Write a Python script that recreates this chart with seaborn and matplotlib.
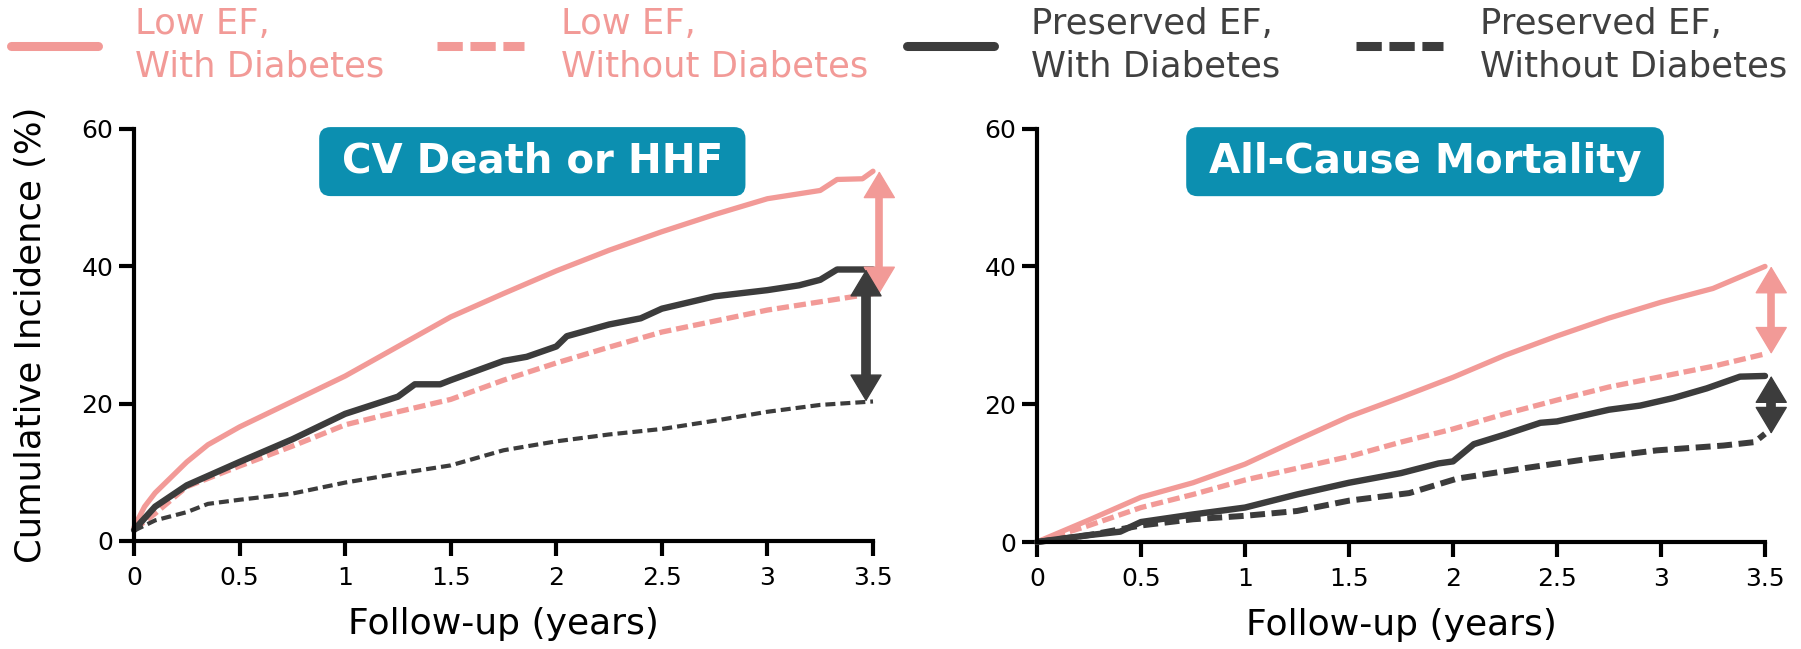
import numpy as np
import pandas as pd
import matplotlib
matplotlib.use("Agg")
import matplotlib.pyplot as plt
from matplotlib.lines import Line2D
import seaborn as sns

sns.set_style("ticks")
plt.rcParams["font.family"] = ["DejaVu Sans"]

# ---- CV death or HHF (cumulative incidence, %) ----
cv_t_low_dm = [0, 0.05, 0.1, 0.25, 0.35, 0.5, 0.75, 1.0, 1.25, 1.5, 1.75, 2.0, 2.25, 2.5, 2.75, 3.0, 3.25, 3.33, 3.45, 3.5]
cv_low_dm = [2.0, 5.0, 7.0, 11.5, 14.0, 16.6, 20.3, 24.0, 28.3, 32.6, 36.0, 39.3, 42.3, 45.0, 47.5, 49.8, 51.0, 52.6, 52.7, 53.8]

cv_t_low_nodm = [0, 0.1, 0.25, 0.5, 0.75, 1.0, 1.25, 1.5, 1.75, 2.0, 2.25, 2.5, 2.75, 3.0, 3.25, 3.5]
cv_low_nodm = [1.6, 4.0, 7.9, 10.9, 13.8, 16.9, 18.8, 20.6, 23.4, 25.9, 28.2, 30.4, 32.0, 33.6, 34.8, 36.0]

cv_t_pres_dm = [0, 0.1, 0.25, 0.5, 0.75, 1.0, 1.25, 1.33, 1.45, 1.5, 1.75, 1.86, 2.0, 2.05, 2.25, 2.4, 2.5, 2.75, 3.0, 3.15, 3.25, 3.33, 3.5]
cv_pres_dm = [1.6, 5.0, 8.1, 11.5, 14.8, 18.5, 21.0, 22.8, 22.8, 23.4, 26.2, 26.8, 28.3, 29.8, 31.5, 32.4, 33.8, 35.6, 36.5, 37.2, 38.0, 39.5, 39.5]

cv_t_pres_nodm = [0, 0.1, 0.25, 0.35, 0.5, 0.75, 1.0, 1.25, 1.5, 1.75, 2.0, 2.25, 2.5, 2.75, 3.0, 3.25, 3.5]
cv_pres_nodm = [1.5, 3.0, 4.2, 5.4, 6.0, 6.9, 8.5, 9.8, 11.0, 13.2, 14.5, 15.5, 16.3, 17.5, 18.8, 19.8, 20.3]

# ---- All-cause mortality (cumulative incidence, %) ----
acm_t_low_dm = [0, 0.25, 0.5, 0.75, 1.0, 1.25, 1.5, 1.75, 2.0, 2.25, 2.5, 2.75, 3.0, 3.25, 3.5]
acm_low_dm = [0, 3.2, 6.5, 8.6, 11.3, 14.8, 18.2, 21.0, 23.9, 27.1, 29.9, 32.5, 34.8, 36.8, 40.0]

acm_t_low_nodm = [0, 0.25, 0.5, 0.75, 1.0, 1.25, 1.5, 1.75, 2.0, 2.25, 2.5, 2.75, 3.0, 3.25, 3.5]
acm_low_nodm = [0, 2.4, 5.0, 6.9, 9.0, 10.7, 12.4, 14.5, 16.4, 18.6, 20.6, 22.5, 24.0, 25.5, 27.3]

acm_t_pres_dm = [0, 0.25, 0.4, 0.5, 0.75, 1.0, 1.25, 1.5, 1.75, 1.93, 2.0, 2.1, 2.25, 2.42, 2.5, 2.75, 2.9, 3.06, 3.22, 3.38, 3.5]
acm_pres_dm = [0, 1.0, 1.5, 2.9, 4.0, 5.0, 6.9, 8.6, 10.0, 11.4, 11.7, 14.2, 15.6, 17.3, 17.5, 19.2, 19.8, 20.9, 22.3, 24.0, 24.1]

acm_t_pres_nodm = [0, 0.25, 0.5, 0.75, 1.0, 1.25, 1.5, 1.79, 2.02, 2.34, 2.66, 2.98, 3.3, 3.45, 3.5]
acm_pres_nodm = [0, 1.0, 2.4, 3.3, 3.8, 4.5, 6.0, 7.1, 9.2, 10.7, 12.1, 13.3, 14.0, 14.5, 15.7]

panel_titles = ["CV Death or HHF", "All-Cause Mortality"]
legend_labels = ["Low EF,\nWith Diabetes", "Low EF,\nWithout Diabetes",
                 "Preserved EF,\nWith Diabetes", "Preserved EF,\nWithout Diabetes"]
x_ticks = [0, 0.5, 1, 1.5, 2, 2.5, 3, 3.5]
x_tick_labels = ["0", "0.5", "1", "1.5", "2", "2.5", "3", "3.5"]
y_ticks = [0, 20, 40, 60]

SALMON = "#F29A97"
DARK = "#3C3C3C"
DARK_TEXT = "#404040"
TEAL = "#0C8FB0"
DPI = 100

fig = plt.figure(figsize=(18.01, 6.49), dpi=DPI)
ax_l = fig.add_axes([134 / 1801, 108 / 649, 739 / 1801, 412.4 / 649])
ax_r = fig.add_axes([1037 / 1801, 107 / 649, 728 / 1801, 413.4 / 649])

HEAD_MS = 20  # arrow-head mutation scale, points
HEAD_LEN_PX = 25.0
HEAD_HALF_W_PX = 15.0


def gap_arrow(ax, x, y_top, y_bot, color, shaft_lw):
    """Double-headed vertical arrow between two curve end values."""
    ms_px = HEAD_MS * DPI / 72
    style = (f"<|-|>,head_length={HEAD_LEN_PX / ms_px:.3f},"
             f"head_width={HEAD_HALF_W_PX / ms_px:.3f}")
    ax.annotate("", xy=(x, y_bot), xytext=(x, y_top),
                xycoords="data", textcoords="data", annotation_clip=False,
                arrowprops=dict(arrowstyle=style, mutation_scale=HEAD_MS, lw=1,
                                color=color, shrinkA=0, shrinkB=0),
                zorder=5)
    px_per_unit = ax.bbox.height / (ax.get_ylim()[1] - ax.get_ylim()[0])
    dy = 0.6 * HEAD_LEN_PX / px_per_unit
    ax.plot([x, x], [y_top - dy, y_bot + dy], color=color, lw=shaft_lw,
            solid_capstyle="butt", clip_on=False, zorder=5)


panels = [
    (ax_l, [(cv_t_low_dm, cv_low_dm, SALMON, "-", 3.8),
            (cv_t_low_nodm, cv_low_nodm, SALMON, (0, (2.3, 0.95)), 3.8),
            (cv_t_pres_dm, cv_pres_dm, DARK, "-", 4.6),
            (cv_t_pres_nodm, cv_pres_nodm, DARK, (0, (2.4, 1.2)), 3.0)],
     panel_titles[0], 0.539, (3.53, 3.467)),
    (ax_r, [(acm_t_low_dm, acm_low_dm, SALMON, "-", 3.8),
            (acm_t_low_nodm, acm_low_nodm, SALMON, (0, (2.3, 0.95)), 3.8),
            (acm_t_pres_dm, acm_pres_dm, DARK, "-", 4.6),
            (acm_t_pres_nodm, acm_pres_nodm, DARK, (0, (2.5, 1.1)), 4.3)],
     panel_titles[1], 0.533, (3.53, 3.53)),
]

for ax, series, title, title_x, arrow_x in panels:
    ax.set_xlim(0, 3.5)
    ax.set_ylim(0, 60)
    for t, v, col, ls, lw in series:
        sns.lineplot(x=t, y=v, ax=ax, color=col, linestyle=ls, linewidth=lw,
                     estimator=None, sort=False, clip_on=False)

    # diabetes gap at the end of follow-up, for each EF group
    gap_arrow(ax, arrow_x[0], series[0][1][-1], series[1][1][-1], SALMON, 5.5)
    gap_arrow(ax, arrow_x[1], series[2][1][-1], series[3][1][-1], DARK, 7.0)

    ax.set_xlim(0, 3.5)
    ax.set_ylim(0, 60)
    ax.set_xticks(x_ticks)
    ax.set_xticklabels(x_tick_labels)
    ax.set_yticks(y_ticks)
    ax.tick_params(axis="both", length=11, width=3, labelsize=18, color="black",
                   labelcolor="black")
    ax.tick_params(axis="y", pad=4)
    ax.tick_params(axis="x", pad=7)
    for side in ["top", "right"]:
        ax.spines[side].set_visible(False)
    for side in ["left", "bottom"]:
        ax.spines[side].set_linewidth(3)
        ax.spines[side].set_color("black")
    ax.set_xlabel("Follow-up (years)", fontsize=26, color="black")
    ax.xaxis.set_label_coords(0.5, -0.16)
    ax.set_ylabel("")

    ax.text(title_x, 0.92, f"\u2009{title}\u2009", transform=ax.transAxes, ha="center",
            va="center", fontsize=29, fontweight="bold", color="white", zorder=6,
            bbox=dict(boxstyle="round,pad=0.36,rounding_size=0.28", fc=TEAL, ec="none"))

ax_l.set_ylabel("Cumulative Incidence (%)", fontsize=25.5, color="black")
ax_l.yaxis.set_label_coords(-0.116, 0.5)

# one legend per entry so each column sits where it belongs
handles = [
    Line2D([], [], color=SALMON, lw=6.5, linestyle="-"),
    Line2D([], [], color=SALMON, lw=6.5, linestyle=(0, (2.8, 0.85))),
    Line2D([], [], color=DARK, lw=6.5, linestyle="-"),
    Line2D([], [], color=DARK, lw=6.5, linestyle=(0, (2.8, 0.85))),
]
label_colors = [SALMON, SALMON, DARK_TEXT, DARK_TEXT]
legend_x_px = [11, 437, 907, 1356]
for h, lab, lc, xpx in zip(handles, legend_labels, label_colors, legend_x_px):
    leg = fig.legend([h], [lab], loc="upper left",
                     bbox_to_anchor=(xpx / 1801, 1 - 7 / 649), frameon=False,
                     fontsize=25.5, handlelength=2.46, handletextpad=1.05,
                     borderpad=0, borderaxespad=0, labelcolor=[lc])
    for txt in leg.get_texts():
        txt.set_linespacing(1.32)

fig.savefig("out.png", dpi=DPI)
